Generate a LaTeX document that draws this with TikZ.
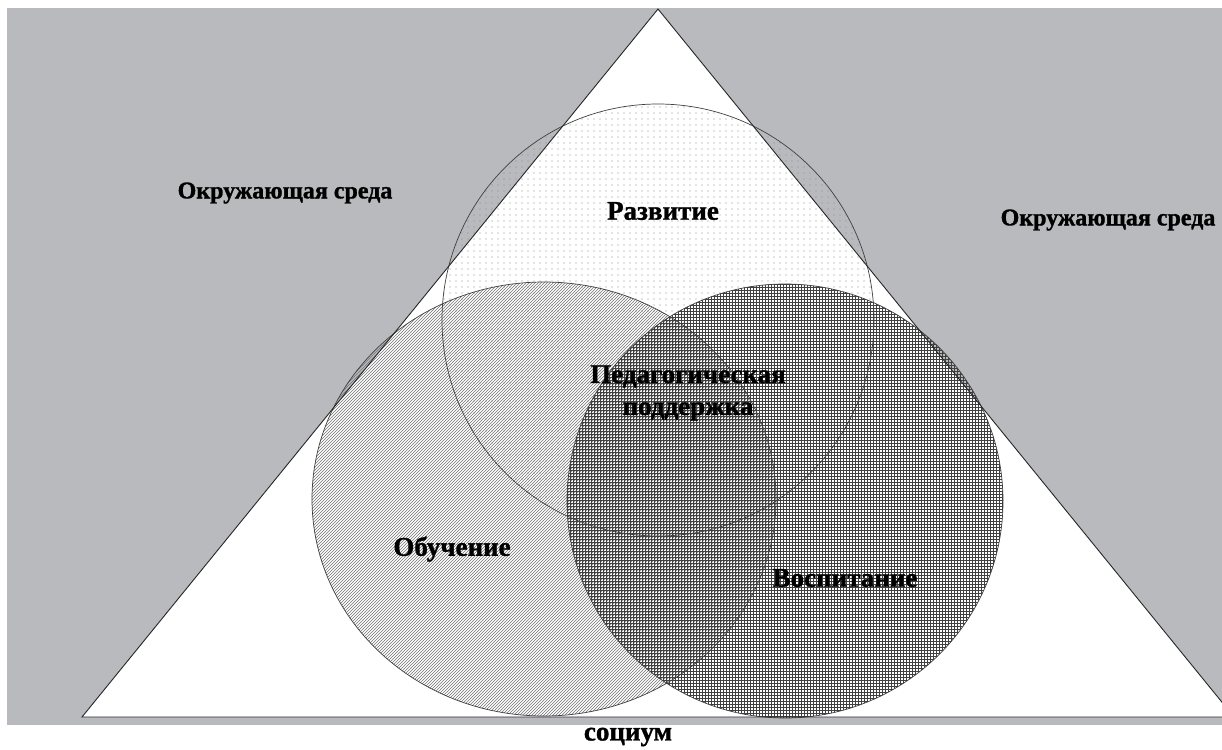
\documentclass[tikz,border=0pt]{standalone}
\usepackage{fontspec}
\setmainfont{Liberation Serif}[BoldFeatures={FakeBold=1.2}]
\usetikzlibrary{patterns,patterns.meta}
\definecolor{bggray}{RGB}{185,186,190}
\tikzset{
  lbl/.style={font=\fontsize{27}{32}\selectfont\bfseries, inner sep=0pt, align=center},
  envlbl/.style={font=\fontsize{24}{28}\selectfont\bfseries, inner sep=0pt},
  ring/.style={draw=black!75, line width=0.7pt},
}
\begin{document}
\begin{tikzpicture}[x=1pt,y=-1pt]
\useasboundingbox (0,0) rectangle (1222,749);
\clip (0,0) rectangle (1222,749);
\fill[white] (0,0) rectangle (1222,749);
\fill[bggray] (7,8) rectangle (1222,725);
% triangle
\coordinate (apex) at (658,9);
\coordinate (bl) at (82,717);
\coordinate (br) at (1234,717);
\fill[white] (apex) -- (bl) -- (br) -- cycle;
% circles (patterns)
\fill[pattern={Dots[distance=6pt,radius=0.6pt]}, pattern color=black!45] (658,320) circle (216);
\fill[pattern=north east lines, pattern color=black!55] (544,499) ellipse [x radius=232, y radius=217];
\fill[pattern=grid, pattern color=black!75] (785,501) ellipse [x radius=218, y radius=217];
\draw[ring] (658,320) circle (216);
\draw[ring] (544,499) ellipse [x radius=232, y radius=217];
\draw[ring] (785,501) ellipse [x radius=218, y radius=217];
% triangle outline
\draw[line width=0.9pt, black!85] (br) -- (apex) -- (bl) -- (br);
% labels
\node[envlbl] (env1) at (285,193) {Окружающая среда};
\node[envlbl] (env2) at (1108,220) {Окружающая среда};
\node[lbl] (razv) at (663,211) {Развитие};
\node[lbl] (ped) at (688,393) {Педагогическая\\поддержка};
\node[lbl] (obuch) at (452,549) {Обучение};
\node[lbl] (vosp) at (845,578) {Воспитание};
\node[lbl] (soc) at (628,737) {социум};
\end{tikzpicture}
\end{document}
